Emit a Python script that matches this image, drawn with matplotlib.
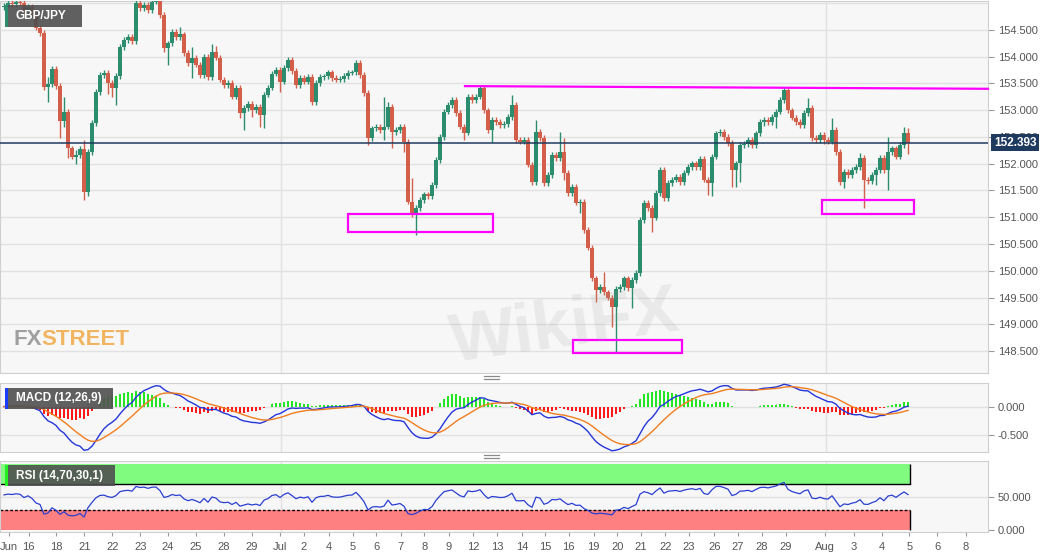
import numpy as np
import matplotlib.pyplot as plt
from matplotlib.patches import Rectangle
from matplotlib.lines import Line2D
import matplotlib.transforms as mtransforms

plt.rcParams['font.family'] = ['Liberation Sans', 'DejaVu Sans']

# 4H closes of GBP/JPY (open = previous close)
first_open = 154.92
closes = [
    154.95, 155.00, 154.98, 155.02, 155.00, 154.84, 154.93, 154.80, 154.54, 154.44,
    153.43, 153.49, 153.77, 153.45, 152.80, 152.97, 152.29, 152.13, 152.16, 152.28,
    151.47, 152.22, 152.76, 153.34, 153.66, 153.70, 153.51, 153.42, 153.64, 154.18,
    154.31, 154.37, 154.29, 155.00, 154.91, 154.97, 154.87, 155.03, 155.05, 154.78,
    154.16, 154.25, 154.46, 154.37, 154.42, 154.07, 153.88, 153.98, 153.85, 153.66,
    154.00, 153.62, 154.09, 153.98, 153.57, 153.47, 153.51, 153.25, 153.42, 152.95,
    153.04, 153.12, 153.00, 153.06, 152.91, 153.29, 153.42, 153.68, 153.75, 153.53,
    153.79, 153.94, 153.73, 153.47, 153.60, 153.53, 153.62, 153.15, 153.51, 153.62,
    153.63, 153.71, 153.60, 153.57, 153.58, 153.64, 153.70, 153.71, 153.88, 153.66,
    153.32, 152.48, 152.66, 152.69, 152.63, 152.69, 153.06, 152.59, 152.63, 152.69,
    152.41, 151.29, 151.08, 151.17, 151.32, 151.43, 151.40, 151.60, 152.07, 152.50,
    152.97, 153.10, 153.19, 152.95, 152.69, 152.58, 153.25, 153.19, 153.25, 153.42,
    153.00, 152.63, 152.82, 152.78, 152.72, 152.74, 152.87, 153.10, 152.44, 152.41,
    152.44, 151.98, 151.66, 152.59, 152.48, 151.64, 151.79, 152.16, 152.11, 152.22,
    151.83, 151.45, 151.57, 151.27, 151.29, 150.76, 150.43, 149.86, 149.64, 149.70,
    149.60, 149.50, 149.32, 149.66, 149.70, 149.86, 149.68, 149.83, 149.96, 150.95,
    151.27, 151.17, 150.99, 151.45, 151.88, 151.36, 151.64, 151.70, 151.75, 151.66,
    151.83, 151.94, 152.01, 151.94, 152.09, 151.70, 151.64, 152.13, 152.57, 152.59,
    152.50, 152.39, 151.88, 152.01, 152.35, 152.37, 152.44, 152.35, 152.57, 152.78,
    152.82, 152.78, 152.87, 152.97, 153.19, 153.38, 153.00, 152.86, 152.78, 152.72,
    152.95, 153.04, 152.48, 152.44, 152.54, 152.44, 152.41, 152.63, 152.22, 151.66,
    151.85, 151.79, 151.88, 151.94, 152.11, 151.70, 151.68, 151.79, 151.88, 152.11,
    151.88, 152.22, 152.29, 152.13, 152.35, 152.57, 152.393,
]

# long wicks that stand out (candle index -> price)
wick_highs = {11: 153.62, 15: 153.25, 18: 152.26, 20: 152.44, 44: 154.56, 47: 154.18,
              52: 154.24, 53: 154.20, 72: 154.00, 95: 153.25, 96: 153.15, 102: 151.73,
              119: 153.47, 127: 153.29, 133: 152.82, 139: 152.59, 140: 152.48, 150: 149.98,
              201: 153.23, 207: 152.86, 214: 152.20, 221: 152.50, 225: 152.69, 226: 152.67}
wick_lows = {10: 153.38, 11: 153.15, 14: 152.48, 15: 152.69, 16: 152.10, 18: 152.00,
             20: 151.32, 21: 151.40, 26: 153.30, 27: 153.25, 28: 153.10, 40: 154.09,
             41: 153.85, 47: 153.60, 59: 152.86, 60: 152.63, 62: 152.87, 64: 152.69,
             65: 152.67, 69: 153.34, 77: 153.10, 91: 152.35, 95: 152.45, 97: 152.29,
             100: 152.22, 102: 151.00, 103: 150.67, 115: 152.44, 122: 152.41, 140: 151.70,
             144: 151.08, 148: 149.42, 152: 148.95, 153: 148.48, 157: 149.30, 162: 150.72,
             176: 151.42, 177: 151.40, 182: 151.57, 183: 151.57, 184: 151.66, 188: 152.35,
             190: 152.70, 193: 152.66, 205: 152.36, 210: 151.55, 215: 151.17, 218: 151.60,
             221: 151.51, 226: 152.18}
wick_default = 0.05

last_price = 152.393
price_ticks = [148.5, 149.0, 149.5, 150.0, 150.5, 151.0, 151.5, 152.0, 152.5, 153.0, 153.5, 154.0, 154.5]
month_lines = [69.2, 205.4]

tick_labels = ['Jun', '16', '18', '21', '22', '23', '24', '25', '28', '29', 'Jul', '2', '4', '5',
               '6', '7', '8', '9', '12', '13', '14', '15', '16', '19', '20', '21', '22', '23',
               '26', '27', '28', '29', 'Aug', '3', '4', '5', '6', '8']
tick_pos = [1.2, 6.2, 13.1, 20.1, 27.05, 34.1, 41, 48, 55, 62, 69, 75, 81.15, 87.15,
            93.1, 99.15, 105.1, 111.15, 117.3, 123.25, 129.6, 135.3, 141.2, 147.4, 153.3, 159.2,
            165.3, 171.2, 177.55, 183.4, 189.5, 195.5, 205.3, 212.4, 219.4, 226.3, 233.35, 240.5]

# drawn levels
resist_x = [115.25, 246]
resist_y = [153.45, 153.40]
boxes = [(86, 122.25, 150.72, 151.06), (142.25, 169.5, 148.46, 148.71), (204.5, 227.5, 151.06, 151.32)]

# ---- derived series
c = np.array(closes)
o = np.concatenate([[first_open], c[:-1]])
x = np.arange(len(c))
hi = np.maximum(o, c) + wick_default
lo = np.minimum(o, c) - wick_default
for k, v in wick_highs.items():
    hi[k] = max(hi[k], v)
for k, v in wick_lows.items():
    lo[k] = min(lo[k], v)


def ema(v, n):
    a = 2.0 / (n + 1)
    out = np.empty_like(v)
    out[0] = v[0]
    for i in range(1, len(v)):
        out[i] = a * v[i] + (1 - a) * out[i - 1]
    return out


macd = ema(c, 12) - ema(c, 26)
signal = ema(macd, 9)
hist = macd - signal

d = np.diff(np.concatenate([[first_open], c]))
gain = np.clip(d, 0, None)
loss = np.clip(-d, 0, None)
ag = np.empty_like(c)
al = np.empty_like(c)
ag[0], al[0] = 0.08, 0.07
for i in range(1, len(c)):
    ag[i] = (ag[i - 1] * 13 + gain[i]) / 14
    al[i] = (al[i - 1] * 13 + loss[i]) / 14
rsi = 100 - 100 / (1 + ag / al)

# ---- figure
W, H = 1060, 555
fig = plt.figure(figsize=(W / 100, H / 100), dpi=100)


def frect(x0, y0, x1, y1):
    return [x0 / W, 1 - y1 / H, (x1 - x0) / W, (y1 - y0) / H]


bg = '#f7f7f8'
grid_c = '#e1e1e3'
txt_c = '#555555'
xlim = (-1, 246)

ax = fig.add_axes(frect(0, 1, 988, 373))
axm = fig.add_axes(frect(0, 383, 988, 452))
axr = fig.add_axes(frect(0, 461, 988, 532))

for a in (ax, axm, axr):
    a.set_facecolor(bg)
    a.set_xlim(*xlim)
    for s in a.spines.values():
        s.set_color('#cfcfcf')
    a.yaxis.tick_right()
    a.tick_params(axis='y', colors='#999999', labelcolor=txt_c, labelsize=8, length=4, pad=3)
    for m in month_lines:
        a.axvline(m, color=grid_c, lw=1, zorder=0)

# main candles
ax.set_ylim(148.09, 155.04)
ax.set_yticks(price_ticks)
ax.set_yticklabels([f'{p:.3f}' for p in price_ticks])
ax.set_xticks([])
for p in price_ticks + [155.0]:
    ax.axhline(p, color=grid_c, lw=1, zorder=0)

up = c >= o
green, red = '#2b8c6e', '#d35f4a'
cols = np.where(up, green, red)
ax.vlines(x, lo, hi, colors=cols, lw=1, zorder=3)
ax.bar(x, np.maximum(np.abs(c - o), 0.012), bottom=np.minimum(o, c), width=0.78,
       color=cols, zorder=4)

ax.axhline(last_price, color='#1f3a5f', lw=1.1, zorder=5)
ax.plot(resist_x, resist_y, color='#ff00ff', lw=1.6, zorder=6, clip_on=False)
for x0, x1, y0, y1 in boxes:
    ax.add_patch(Rectangle((x0, y0), x1 - x0, y1 - y0, fill=False, ec='#ff00ff', lw=1.6, zorder=6))

tr = mtransforms.blended_transform_factory(ax.transAxes, ax.transData)
ax.text(1.006, last_price, '152.393', transform=tr, ha='left', va='center', color='white',
        fontsize=8.5, fontweight='bold', zorder=20, clip_on=False,
        bbox=dict(boxstyle='square,pad=0.22', fc='#1f3a5f', ec='none'))

# watermarks
ax.text(0.572, 0.12, 'WikiFX', transform=ax.transAxes, fontsize=50, fontweight='bold',
        color='#9a9a9a', alpha=0.15, rotation=8, ha='center', va='center', zorder=7)
ax.text(0.014, 0.09, 'FX', transform=ax.transAxes, fontsize=16, fontweight='bold',
        color='#8a8a8a', alpha=0.8, ha='left', va='center', zorder=7)
ax.text(0.042, 0.09, 'STREET', transform=ax.transAxes, fontsize=16, fontweight='bold',
        color='#f0a53c', alpha=0.8, ha='left', va='center', zorder=7)

# MACD
axm.set_ylim(-0.805, 0.417)
axm.set_yticks([0.0, -0.5])
axm.set_yticklabels(['0.000', '-0.500'])
axm.set_xticks([])
for p in (0.0, -0.5):
    axm.axhline(p, color=grid_c, lw=1, zorder=0)
axm.bar(x, hist, width=0.7, color=np.where(hist >= 0, '#22e622', '#ff1a1a'), zorder=2)
axm.plot(x, macd, color='#2536d8', lw=1, zorder=3)
axm.plot(x, signal, color='#f07d1e', lw=1, zorder=3)

# RSI
axr.set_ylim(-2.7, 104.5)
axr.set_yticks([0, 50])
axr.set_yticklabels(['0.000', '50.000'])
axr.axhline(50, color=grid_c, lw=1, zorder=0)
band_end = x[-1] + 0.5
axr.fill_between([xlim[0], band_end], 70, 100, color='#80fb80', lw=0, zorder=1)
axr.fill_between([xlim[0], band_end], 0, 30, color='#ff8080', lw=0, zorder=1)
axr.plot([xlim[0], band_end], [70, 70], color='black', lw=1, zorder=2)
axr.plot([xlim[0], band_end], [30, 30], color='black', lw=1, dashes=(2, 1.5), zorder=2)
axr.vlines([band_end, band_end], [0, 70], [30, 100], color='black', lw=1, zorder=2)
axr.plot(x, rsi, color='#2a3ed0', lw=0.9, zorder=3)
axr.set_xticks(tick_pos)
axr.set_xticklabels(tick_labels)
axr.tick_params(axis='x', colors='#999999', labelcolor=txt_c, labelsize=8, length=3, pad=4)

# label boxes in pixel positions
def label_box(x0, y0, x1, y1, stripe, text):
    fig.add_artist(Rectangle((x0 / W, 1 - y1 / H), (x1 - x0) / W, (y1 - y0) / H,
                             transform=fig.transFigure, fc='#4f4f4f', alpha=0.9, ec='none', zorder=10))
    fig.add_artist(Rectangle((x0 / W, 1 - y1 / H), 3 / W, (y1 - y0) / H,
                             transform=fig.transFigure, fc=stripe, ec='none', zorder=11))
    fig.text((x0 + 11) / W, 1 - (y0 + y1) / 2 / H, text, color='white', fontsize=8.5,
             fontweight='bold', va='center', ha='left', zorder=12)


label_box(5, 5, 82, 27, '#2b8c6e', 'GBP/JPY')
label_box(5, 388, 113, 409, '#1a3cff', 'MACD (12,26,9)')
label_box(5, 465, 115, 486, '#22ee22', 'RSI (14,70,30,1)')

# panel grips
for yy in (376, 378.5, 455, 457.5):
    fig.add_artist(Line2D([484 / W, 499 / W], [1 - yy / H, 1 - yy / H], transform=fig.transFigure,
                          color='#8a8a8a', lw=0.9))

fig.savefig('out.png', dpi=100, facecolor='white')
